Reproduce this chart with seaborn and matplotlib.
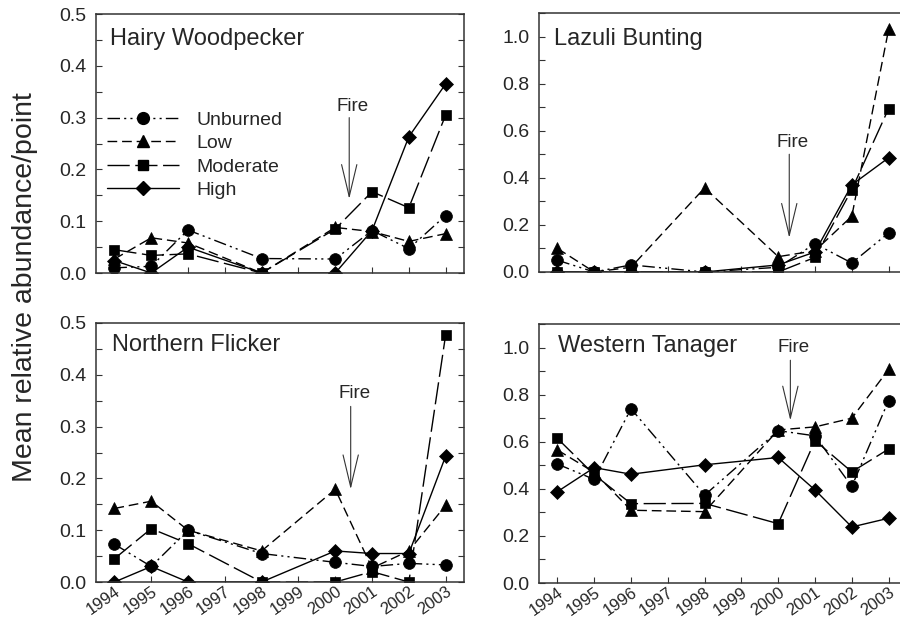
import matplotlib
matplotlib.use("Agg")
import matplotlib.pyplot as plt
from matplotlib.lines import Line2D
from matplotlib.ticker import MultipleLocator, FormatStrFormatter
import numpy as np
import pandas as pd
import seaborn as sns

years = [1994, 1995, 1996, 1998, 2000, 2001, 2002, 2003]
treatments = ["Unburned", "Low", "Moderate", "High"]

# Hairy Woodpecker
hw_unburned = [0.010, 0.013, 0.083, 0.028, 0.027, 0.082, 0.047, 0.111]
hw_low      = [0.027, 0.068, 0.058, 0.000, 0.088, 0.080, 0.061, 0.076]
hw_moderate = [0.045, 0.034, 0.037, 0.000, 0.085, 0.157, 0.126, 0.305]
hw_high     = [0.024, 0.000, 0.050, 0.000, 0.000, 0.082, 0.263, 0.365]

# Lazuli Bunting
lb_unburned = [0.050, 0.000, 0.030, 0.000, 0.020, 0.120, 0.038, 0.166]
lb_low      = [0.100, 0.000, 0.020, 0.357, 0.065, 0.090, 0.237, 1.030]
lb_moderate = [0.000, 0.000, 0.000, 0.000, 0.000, 0.062, 0.350, 0.694]
lb_high     = [0.000, 0.000, 0.000, 0.000, 0.030, 0.085, 0.370, 0.485]

# Northern Flicker
nf_unburned = [0.073, 0.030, 0.100, 0.055, 0.038, 0.030, 0.036, 0.033]
nf_low      = [0.142, 0.156, 0.100, 0.060, 0.179, 0.027, 0.060, 0.148]
nf_moderate = [0.045, 0.103, 0.074, 0.000, 0.000, 0.020, 0.000, 0.477]
nf_high     = [0.000, 0.030, 0.000, 0.000, 0.060, 0.055, 0.055, 0.243]

# Western Tanager
wt_unburned = [0.505, 0.440, 0.740, 0.373, 0.647, 0.625, 0.410, 0.775]
wt_low      = [0.565, 0.470, 0.309, 0.303, 0.650, 0.663, 0.700, 0.907]
wt_moderate = [0.614, 0.460, 0.337, 0.338, 0.252, 0.605, 0.472, 0.569]
wt_high     = [0.388, 0.490, 0.462, 0.502, 0.533, 0.395, 0.238, 0.275]

species = ["Hairy Woodpecker", "Lazuli Bunting", "Northern Flicker", "Western Tanager"]
series = {
    "Hairy Woodpecker": [hw_unburned, hw_low, hw_moderate, hw_high],
    "Lazuli Bunting": [lb_unburned, lb_low, lb_moderate, lb_high],
    "Northern Flicker": [nf_unburned, nf_low, nf_moderate, nf_high],
    "Western Tanager": [wt_unburned, wt_low, wt_moderate, wt_high],
}

rows = []
for sp in species:
    for tr, vals in zip(treatments, series[sp]):
        for y, v in zip(years, vals):
            rows.append({"Species": sp, "Treatment": tr, "Year": y, "Value": v})
df = pd.DataFrame(rows)

sns.set_theme(style="ticks")
plt.rcParams["font.family"] = ["Liberation Sans", "DejaVu Sans"]

styles = {
    "Unburned": dict(marker="o", ms=8.5, ls=(0, (9, 3, 1.5, 3, 1.5, 3))),
    "Low": dict(marker="^", ms=8.5, ls=(0, (7, 3.5))),
    "Moderate": dict(marker="s", ms=7.5, ls=(0, (16, 4))),
    "High": dict(marker="D", ms=7.0, ls="-"),
}

fig = plt.figure(figsize=(9.0, 6.17), dpi=100)
positions = {
    "Hairy Woodpecker": [0.1067, 0.5575, 0.4089, 0.4198],
    "Lazuli Bunting": [0.5989, 0.5592, 0.4089, 0.4198],
    "Northern Flicker": [0.1067, 0.0567, 0.4089, 0.4198],
    "Western Tanager": [0.5989, 0.0551, 0.4089, 0.4198],
}
ylims = {"Hairy Woodpecker": 0.5, "Lazuli Bunting": 1.1,
         "Northern Flicker": 0.5, "Western Tanager": 1.1}
title_pos = {"Hairy Woodpecker": (0.038, 0.880), "Lazuli Bunting": (0.042, 0.876),
             "Northern Flicker": (0.044, 0.892), "Western Tanager": (0.051, 0.893)}
# fire arrow: x, arrow top, arrow tip, text baseline
fire = {"Hairy Woodpecker": (2000.38, 0.300, 0.143, 0.313),
        "Lazuli Bunting": (2000.3, 0.50, 0.145, 0.529),
        "Northern Flicker": (2000.42, 0.339, 0.179, 0.355),
        "Western Tanager": (2000.33, 0.946, 0.69, 0.979)}

for sp in species:
    ax = fig.add_axes(positions[sp])
    sub = df[df["Species"] == sp]
    for tr in treatments:
        st = styles[tr]
        sns.lineplot(data=sub[sub["Treatment"] == tr], x="Year", y="Value", ax=ax,
                     color="black", lw=1.0, linestyle=st["ls"], marker=st["marker"],
                     markersize=st["ms"], markeredgecolor="black", markerfacecolor="black",
                     markeredgewidth=0.5, legend=False, errorbar=None)
    ax.set_xlim(1993.5, 2003.5)
    ax.set_ylim(0, ylims[sp])
    ax.set_xticks(list(range(1994, 2004)))
    if ylims[sp] < 1:
        ax.yaxis.set_major_locator(MultipleLocator(0.1))
        ax.yaxis.set_minor_locator(MultipleLocator(0.05))
    else:
        ax.yaxis.set_major_locator(MultipleLocator(0.2))
        ax.yaxis.set_minor_locator(MultipleLocator(0.1))
    ax.yaxis.set_major_formatter(FormatStrFormatter("%.1f"))
    ax.tick_params(axis="both", which="both", direction="in", length=4, width=0.8,
                   right=True, top=False, color="#333333")
    ax.tick_params(axis="y", labelsize=14, pad=7)
    ax.tick_params(axis="x", labelsize=12, pad=1)
    ax.set_xlabel("")
    ax.set_ylabel("")
    for s in ax.spines.values():
        s.set_visible(True)
        s.set_linewidth(1.1)
        s.set_color("#333333")
    if sp in ("Northern Flicker", "Western Tanager"):
        for lab in ax.get_xticklabels():
            lab.set_rotation(35)
            lab.set_ha("right")
            lab.set_va("top")
            lab.set_rotation_mode("anchor")
    else:
        ax.set_xticklabels([])
    tx, ty = title_pos[sp]
    ax.text(tx, ty, sp, transform=ax.transAxes, fontsize=17, ha="left", va="baseline")
    fx, ftop, ftip, fty = fire[sp]
    ax.annotate("", xy=(fx, ftip), xytext=(fx, ftop),
                arrowprops=dict(arrowstyle="->,head_length=2.3,head_width=0.55",
                                lw=0.8, color="#333333", shrinkA=0, shrinkB=0,
                                mutation_scale=10))
    ax.text(fx + 0.1, fty, "Fire", fontsize=13.5, ha="center", va="baseline")

    if sp == "Hairy Woodpecker":
        handles = [Line2D([0], [0], color="black", lw=1.0, linestyle=styles[t]["ls"],
                          marker=styles[t]["marker"], markersize=styles[t]["ms"],
                          markerfacecolor="black", markeredgecolor="black")
                   for t in treatments]
        ax.legend(handles, treatments, loc="upper left", bbox_to_anchor=(0.03, 0.625),
                  frameon=False, fontsize=14, handlelength=3.7, handletextpad=0.9,
                  labelspacing=0.3, borderpad=0, borderaxespad=0, numpoints=1)

fig.text(0.028, 0.535, "Mean relative abundance/point", rotation=90, fontsize=20.5,
         ha="center", va="center")

fig.savefig("out.png", dpi=100)
